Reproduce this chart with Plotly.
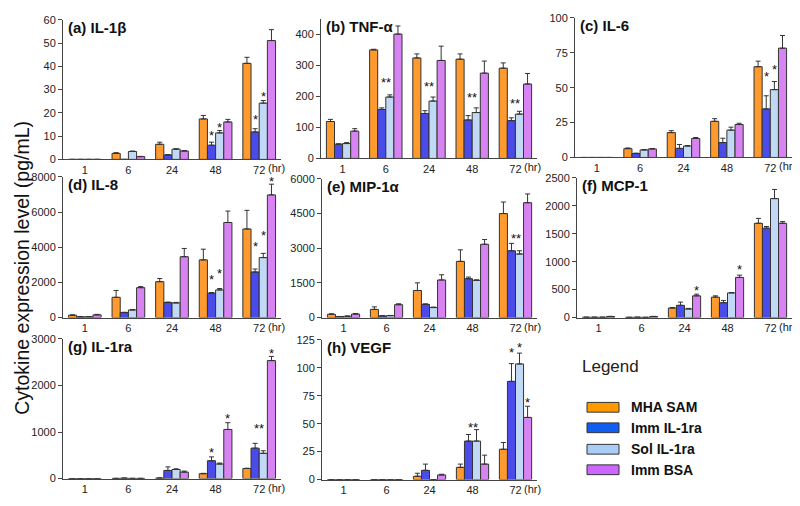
import plotly.graph_objects as go

# page body has an 8 px margin: the figure is drawn 8 px in from the window corner
PAGE_MARGIN = 8
WIN_W, WIN_H = 800, 506
W, H = WIN_W - PAGE_MARGIN, WIN_H - PAGE_MARGIN

CATEGORIES = ["1", "6", "24", "48", "72"]
SERIES = ["MHA SAM", "Imm IL-1ra", "Sol IL-1ra", "Imm BSA"]

# ---- (a) IL-1beta ----
A_MHA = [0, 2.6, 6.5, 17.4, 41.3]
A_MHA_ERR = [0, 0.3, 0.9, 1.5, 2.6]
A_IMM = [0, 0, 1.9, 6.1, 11.8]
A_IMM_ERR = [0, 0, 0.2, 1.3, 1.4]
A_SOL = [0, 3.4, 4.4, 11.4, 24.2]
A_SOL_ERR = [0, 0.2, 0.2, 1.0, 1.1]
A_BSA = [0, 1.2, 3.6, 16.1, 51.1]
A_BSA_ERR = [0, 0.1, 0.2, 1.1, 4.7]
A_STARS = [(3, 1, "*", 11.7), (3, 2, "*", 15.1), (4, 1, "*", 18.5), (4, 2, "*", 28.2)]

# ---- (b) TNF-alpha ----
B_MHA = [119, 350, 324, 320, 291]
B_MHA_ERR = [7, 2, 13, 17, 17]
B_IMM = [46, 158, 145, 124, 122]
B_IMM_ERR = [1, 5, 9, 14, 9]
B_SOL = [48, 198, 185, 148, 143]
B_SOL_ERR = [3, 7, 13, 15, 9]
B_BSA = [88, 401, 316, 275, 240]
B_BSA_ERR = [8, 26, 46, 39, 34]
B_STARS = [(1, 1.5, "**", 256), (2, 1.5, "**", 242), (3, 1.5, "**", 206), (4, 1.5, "**", 187)]

# ---- (c) IL-6 ----
C_MHA = [0, 6.3, 17.8, 25.9, 65.0]
C_MHA_ERR = [0, 0.5, 1.4, 1.9, 4.0]
C_IMM = [0, 2.8, 6.5, 10.7, 34.8]
C_IMM_ERR = [0, 0.3, 2.8, 3.1, 9.4]
C_SOL = [0, 5.4, 8.2, 19.6, 48.6]
C_SOL_ERR = [0, 0.2, 0.3, 2.1, 5.8]
C_BSA = [0, 6.1, 13.6, 23.6, 78.3]
C_BSA_ERR = [0, 0.3, 0.7, 0.9, 9.1]
C_STARS = [(4, 1, "*", 60), (4, 2, "*", 65)]

# ---- (d) IL-8 ----
D_MHA = [130, 1150, 2040, 3280, 5040]
D_MHA_ERR = [20, 390, 180, 610, 1060]
D_IMM = [40, 280, 850, 1390, 2590]
D_IMM_ERR = [10, 20, 30, 30, 170]
D_SOL = [40, 430, 830, 1570, 3410]
D_SOL_ERR = [10, 20, 30, 80, 240]
D_BSA = [150, 1700, 3460, 5410, 6980]
D_BSA_ERR = [30, 60, 470, 650, 610]
D_STARS = [(3, 1, "*", 2320), (3, 2, "*", 2690), (4, 1, "*", 4200), (4, 2, "*", 4850), (4, 3, "*", 7900)]

# ---- (e) MIP-1alpha ----
E_MHA = [140, 350, 1170, 2430, 4500]
E_MHA_ERR = [20, 110, 330, 500, 500]
E_IMM = [40, 70, 570, 1680, 2890]
E_IMM_ERR = [5, 10, 20, 70, 320]
E_SOL = [55, 80, 430, 1610, 2750]
E_SOL_ERR = [10, 10, 20, 20, 140]
E_BSA = [150, 555, 1625, 3170, 4970]
E_BSA_ERR = [20, 40, 225, 205, 380]
E_STARS = [(4, 1.5, "**", 3560)]

# ---- (f) MCP-1 ----
F_MHA = [5, 3, 170, 365, 1688]
F_MHA_ERR = [0, 0, 10, 23, 88]
F_IMM = [5, 5, 218, 265, 1600]
F_IMM_ERR = [0, 0, 58, 41, 30]
F_SOL = [5, 3, 153, 441, 2130]
F_SOL_ERR = [0, 0, 10, 5, 164]
F_BSA = [18, 18, 388, 718, 1688]
F_BSA_ERR = [3, 3, 30, 41, 30]
F_STARS = [(2, 3, "*", 540), (3, 3, "*", 905)]

# ---- (g) IL-1ra ----
G_MHA = [0, 3, 10, 104, 215]
G_MHA_ERR = [0, 0, 3, 8, 7]
G_IMM = [0, 8, 174, 382, 653]
G_IMM_ERR = [0, 1, 76, 83, 104]
G_SOL = [0, 3, 194, 312, 542]
G_SOL_ERR = [0, 0, 16, 21, 55]
G_BSA = [0, 3, 139, 1055, 2535]
G_BSA_ERR = [0, 0, 21, 145, 90]
G_STARS = [(3, 1, "*", 625), (3, 3, "*", 1354), (4, 1.5, "**", 1130), (4, 3, "*", 2750)]

# ---- (h) VEGF ----
H_MHA = [0, 0, 2.9, 10.9, 27.1]
H_MHA_ERR = [0, 0, 2.7, 2.9, 6.1]
H_IMM = [0, 0, 8.2, 34.4, 87.9]
H_IMM_ERR = [0, 0, 5.6, 5.9, 15.9]
H_SOL = [0, 0, 0, 34.4, 103.5]
H_SOL_ERR = [0, 0, 0, 10.3, 9.7]
H_BSA = [0, 0, 4.1, 13.8, 55.6]
H_BSA_ERR = [0, 0, 0.6, 8.0, 10.0]
H_STARS = [(3, 1.5, "**", 49), (4, 1, "*", 116.5), (4, 2, "*", 120.5), (4, 3, "*", 72)]

TITLES = ["(a) IL-1β", "(b) TNF-α", "(c) IL-6", "(d) IL-8", "(e) MIP-1α",
          "(f) MCP-1", "(g) IL-1ra", "(h) VEGF"]
Y_MAX = [60, 450, 100, 8000, 6000, 2500, 3000, 125]
Y_DTICK = [10, 100, 25, 2000, 1500, 500, 1000, 25]

PANEL_DATA = [
    ([A_MHA, A_IMM, A_SOL, A_BSA], [A_MHA_ERR, A_IMM_ERR, A_SOL_ERR, A_BSA_ERR], A_STARS),
    ([B_MHA, B_IMM, B_SOL, B_BSA], [B_MHA_ERR, B_IMM_ERR, B_SOL_ERR, B_BSA_ERR], B_STARS),
    ([C_MHA, C_IMM, C_SOL, C_BSA], [C_MHA_ERR, C_IMM_ERR, C_SOL_ERR, C_BSA_ERR], C_STARS),
    ([D_MHA, D_IMM, D_SOL, D_BSA], [D_MHA_ERR, D_IMM_ERR, D_SOL_ERR, D_BSA_ERR], D_STARS),
    ([E_MHA, E_IMM, E_SOL, E_BSA], [E_MHA_ERR, E_IMM_ERR, E_SOL_ERR, E_BSA_ERR], E_STARS),
    ([F_MHA, F_IMM, F_SOL, F_BSA], [F_MHA_ERR, F_IMM_ERR, F_SOL_ERR, F_BSA_ERR], F_STARS),
    ([G_MHA, G_IMM, G_SOL, G_BSA], [G_MHA_ERR, G_IMM_ERR, G_SOL_ERR, G_BSA_ERR], G_STARS),
    ([H_MHA, H_IMM, H_SOL, H_BSA], [H_MHA_ERR, H_IMM_ERR, H_SOL_ERR, H_BSA_ERR], H_STARS),
]

# ---- layout (window pixel boxes: left, right, top, bottom) ----
BOXES = [
    (63, 281, 14, 157), (321, 537, 13, 156), (575, 792, 12, 155),
    (63, 281, 175, 319), (322, 537, 177, 319), (577, 792, 176, 319),
    (63, 281, 341, 484), (322, 537, 342, 485),
]
BAR_COLORS = ["#FF9A2E", "#4B4BEA", "#C2D9F5", "#D883F2"]
LEGEND_COLORS = ["#FF9900", "#0F5EF0", "#A9CDF7", "#CC66FF"]
FONT = "Arial, Liberation Sans, sans-serif"
BARGAP = 0.25


def px(x):
    return (x - PAGE_MARGIN) / W


def py(y):
    return 1 - (y - PAGE_MARGIN) / H


fig = go.Figure()
layout = {}
annotations = []
xs = list(range(len(CATEGORIES)))

for p, (vals, errs, stars) in enumerate(PANEL_DATA):
    n = "" if p == 0 else str(p + 1)
    xa, ya = "x" + n, "y" + n
    for k in range(4):
        fig.add_trace(go.Bar(
            x=xs, y=vals[k], xaxis=xa, yaxis=ya, name=SERIES[k],
            offsetgroup=str(k), showlegend=False,
            marker=dict(color=BAR_COLORS[k], line=dict(color="#333333", width=1)),
            error_y=dict(type="data", symmetric=False, array=errs[k],
                         arrayminus=[0] * len(errs[k]), color="#333333",
                         thickness=1, width=2.5),
        ))
    l, r, t, b = BOXES[p]
    layout["xaxis" + n] = dict(
        domain=[px(l), px(r)], range=[-0.5, 4.5], anchor=ya,
        tickvals=xs, ticktext=CATEGORIES, showline=True, linecolor="#444444",
        linewidth=1, ticks="", showgrid=False, zeroline=False,
        tickfont=dict(family=FONT, size=11, color="#222222"), fixedrange=True)
    layout["yaxis" + n] = dict(
        domain=[py(b), py(t)], range=[0, Y_MAX[p]], dtick=Y_DTICK[p],
        anchor=xa, showline=True, linecolor="#444444", linewidth=1,
        ticks="outside", ticklen=4, tickcolor="#444444", showgrid=False,
        zeroline=False, tickfont=dict(family=FONT, size=11, color="#222222"),
        fixedrange=True)
    # panel title
    annotations.append(dict(
        text="<b>" + TITLES[p] + "</b>", xref=xa + " domain", yref=ya + " domain",
        x=0, y=1, xanchor="left", yanchor="top", xshift=3, yshift=3,
        showarrow=False, font=dict(family=FONT, size=15, color="#111111")))
    # (hr) label
    annotations.append(dict(
        text="(hr)", xref=xa, yref=ya + " domain", x=4.15, y=0,
        xanchor="left", yanchor="top", yshift=-1, showarrow=False,
        font=dict(family=FONT, size=11, color="#222222")))
    # significance stars
    w = (1 - BARGAP) / 4
    for (g, s, txt, yv) in stars:
        annotations.append(dict(
            text=txt, xref=xa, yref=ya, x=g + (s - 1.5) * w, y=yv,
            xanchor="center", yanchor="middle", yshift=-3, showarrow=False,
            font=dict(family=FONT, size=13, color="#111111")))

# y-axis title
annotations.append(dict(
    text="Cytokine expression level (pg/mL)", xref="paper", yref="paper",
    x=px(22), y=py(268), textangle=-90, showarrow=False,
    xanchor="center", yanchor="middle",
    font=dict(family=FONT, size=19.5, color="#111111")))

# custom legend
annotations.append(dict(
    text="Legend", xref="paper", yref="paper", x=px(580), y=py(369),
    xanchor="left", yanchor="middle", showarrow=False,
    font=dict(family=FONT, size=17, color="#222222")))
shapes = []
ROW_Y = [411, 432, 454, 475]
for k in range(4):
    cy = ROW_Y[k]
    shapes.append(dict(type="rect", xref="paper", yref="paper",
                       x0=px(587), x1=px(619), y0=py(cy + 5), y1=py(cy - 5),
                       fillcolor=LEGEND_COLORS[k], line=dict(color="#333333", width=1)))
    annotations.append(dict(
        text="<b>" + SERIES[k] + "</b>", xref="paper", yref="paper",
        x=px(629), y=py(cy), xanchor="left", yanchor="middle", showarrow=False,
        font=dict(family=FONT, size=14, color="#111111")))

fig.update_layout(
    width=W, height=H, margin=dict(l=0, r=0, t=0, b=0),
    paper_bgcolor="white", plot_bgcolor="white",
    barmode="group", bargap=BARGAP, bargroupgap=0,
    annotations=annotations, shapes=shapes, **layout)

fig.write_html("out.html")
